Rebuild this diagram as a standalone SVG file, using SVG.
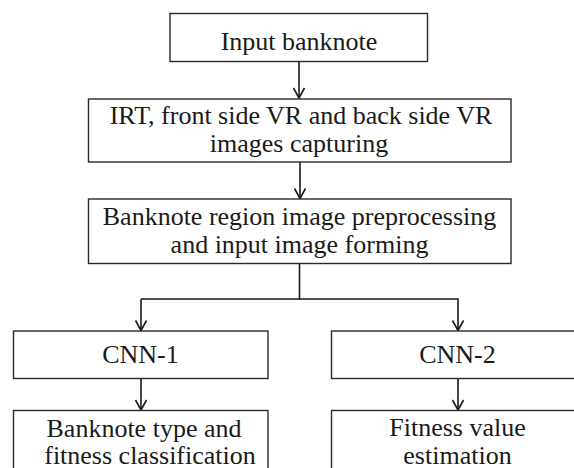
<svg xmlns="http://www.w3.org/2000/svg" width="574" height="468" viewBox="0 0 574 468">
<defs>
<style>
.box{fill:#fff;stroke:#2a2a2a;stroke-width:1.4}
.t{font-size:26px;fill:#1a1a1a;text-anchor:middle}
.c{fill:none;stroke:#1a1a1a;stroke-width:1.6}
</style>
<marker id="ah" markerUnits="userSpaceOnUse" markerWidth="14" markerHeight="14" viewBox="-12 -7 14 14" refX="0" refY="0" orient="auto">
<path d="M-10,-5.5 L0,0 L-10,5.5" fill="none" stroke="#1a1a1a" stroke-width="1.6"/>
</marker>
</defs>
<rect width="574" height="468" fill="#fff"/>
<g id="connectors">
<line class="c" x1="299" y1="62" x2="299" y2="98" marker-end="url(#ah)"/>
<line class="c" x1="300" y1="162" x2="300" y2="198.5" marker-end="url(#ah)"/>
<polyline class="c" points="299.5,263.5 299.5,299 141,299"/>
<line class="c" x1="141" y1="299" x2="141" y2="330.5" marker-end="url(#ah)"/>
<polyline class="c" points="299.5,299 458,299 458,330.5" marker-end="url(#ah)"/>
<line class="c" x1="141" y1="378.5" x2="141" y2="410" marker-end="url(#ah)"/>
<line class="c" x1="458" y1="378.5" x2="458" y2="410" marker-end="url(#ah)"/>
</g>
<g font-family="'Liberation Serif', 'Times New Roman', 'DejaVu Serif', serif">
<g id="input">
<rect class="box" x="170" y="13.5" width="257.5" height="48"/>
<text class="t" x="299" y="50">Input banknote</text>
</g>
<g id="capture">
<rect class="box" x="88.5" y="99" width="422.5" height="63"/>
<text class="t" x="301" y="123.5">IRT, front side VR and back side VR</text>
<text class="t" x="299" y="151.5">images capturing</text>
</g>
<g id="preprocess">
<rect class="box" x="88.5" y="199" width="422.5" height="64.5"/>
<text class="t" x="299.5" y="225">Banknote region image preprocessing</text>
<text class="t" x="299.5" y="253">and input image forming</text>
</g>
<g id="cnn1">
<rect class="box" x="13.5" y="331" width="254.5" height="47.5"/>
<text class="t" x="140.5" y="362.5">CNN-1</text>
</g>
<g id="cnn2">
<rect class="box" x="331.5" y="331" width="254" height="47.5"/>
<text class="t" x="457.5" y="362.5">CNN-2</text>
</g>
<g id="classify">
<rect class="box" x="13.5" y="410.5" width="254.5" height="70"/>
<text class="t" x="144" y="436.5">Banknote type and</text>
<text class="t" x="150" y="464">fitness classification</text>
</g>
<g id="estimate">
<rect class="box" x="331.5" y="410.5" width="254" height="70"/>
<text class="t" x="457.5" y="436">Fitness value</text>
<text class="t" x="457.5" y="464">estimation</text>
</g>
</g>
</svg>
